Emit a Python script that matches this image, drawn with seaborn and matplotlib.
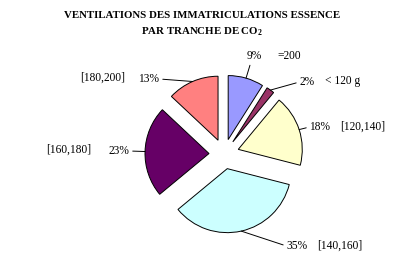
import numpy as np
import matplotlib
matplotlib.use("Agg")
import matplotlib.pyplot as plt
import seaborn as sns

# ---- data ----
categories = ["=200", "< 120 g", "[120,140]", "[140,160]", "[160,180]", "[180,200]"]
shares = [9, 2, 18, 35, 23, 13]
pct_labels = ["9%", "2%", "18%", "35%", "23%", "13%"]
colors = ["#9999FF", "#993366", "#FFFFCC", "#CCFFFF", "#660066", "#FF8080"]

sns.set_theme(style="white")
plt.rcParams["font.family"] = ["Liberation Serif", "DejaVu Serif"]
plt.rcParams["mathtext.fontset"] = "custom"
plt.rcParams["mathtext.rm"] = "Liberation Serif"
plt.rcParams["mathtext.bf"] = "Liberation Serif:bold"

W, H = 405, 276
fig = plt.figure(figsize=(W / 100, H / 100), dpi=100)
fig.patch.set_facecolor("white")
ax = fig.add_axes([0, 0, 1, 1])

R = 64
EXPLODE = 15  # absolute offset in data units (pixels)
wedges, _ = ax.pie(
    shares,
    colors=colors,
    startangle=90,
    counterclock=False,
    explode=[EXPLODE] * len(shares),
    radius=R,
    center=(224, H - 154),
    wedgeprops=dict(edgecolor="black", linewidth=0.7),
)
ax.set_xlim(0, W)
ax.set_ylim(0, H)
ax.set_aspect("equal")
ax.axis("off")

# label layout (pixel positions from top-left): pct text centre, category text centre, relpos
layout = [
    ((254, 56), (289, 56), (0.3, 0.0)),
    ((307, 82), (343, 81), (0.0, 0.5)),
    ((320, 127), (363, 127), (0.0, 0.5)),
    ((297, 246), (340, 246), (0.0, 0.5)),
    ((119, 151), (69, 150), (1.0, 0.5)),
    ((149, 79), (103, 78), (1.0, 0.5)),
]

fs = 8.3
for w, pct, cat, (pxy, cxy, rel) in zip(wedges, pct_labels, categories, layout):
    mid = np.deg2rad((w.theta1 + w.theta2) / 2)
    cx, cy = w.center
    anchor = (cx + w.r * np.cos(mid), cy + w.r * np.sin(mid))
    ax.annotate(
        pct, xy=anchor, xytext=(pxy[0], H - pxy[1]),
        ha="center", va="center", fontsize=fs, color="black",
        arrowprops=dict(arrowstyle="-", color="black", lw=0.7,
                        relpos=rel, shrinkA=0, shrinkB=0),
    )
    ax.text(cxy[0], H - cxy[1], cat, ha="center", va="center",
            fontsize=fs, color="black")

ax.text(202, H - 15, "VENTILATIONS DES IMMATRICULATIONS ESSENCE",
        ha="center", va="center", fontsize=7.8, fontweight="bold", color="black")
ax.text(202, H - 32, r"PAR TRANCHE DE CO$_{\mathbf{2}}$",
        ha="center", va="center", fontsize=7.8, fontweight="bold", color="black")

fig.savefig("out.png", dpi=100, facecolor="white")
